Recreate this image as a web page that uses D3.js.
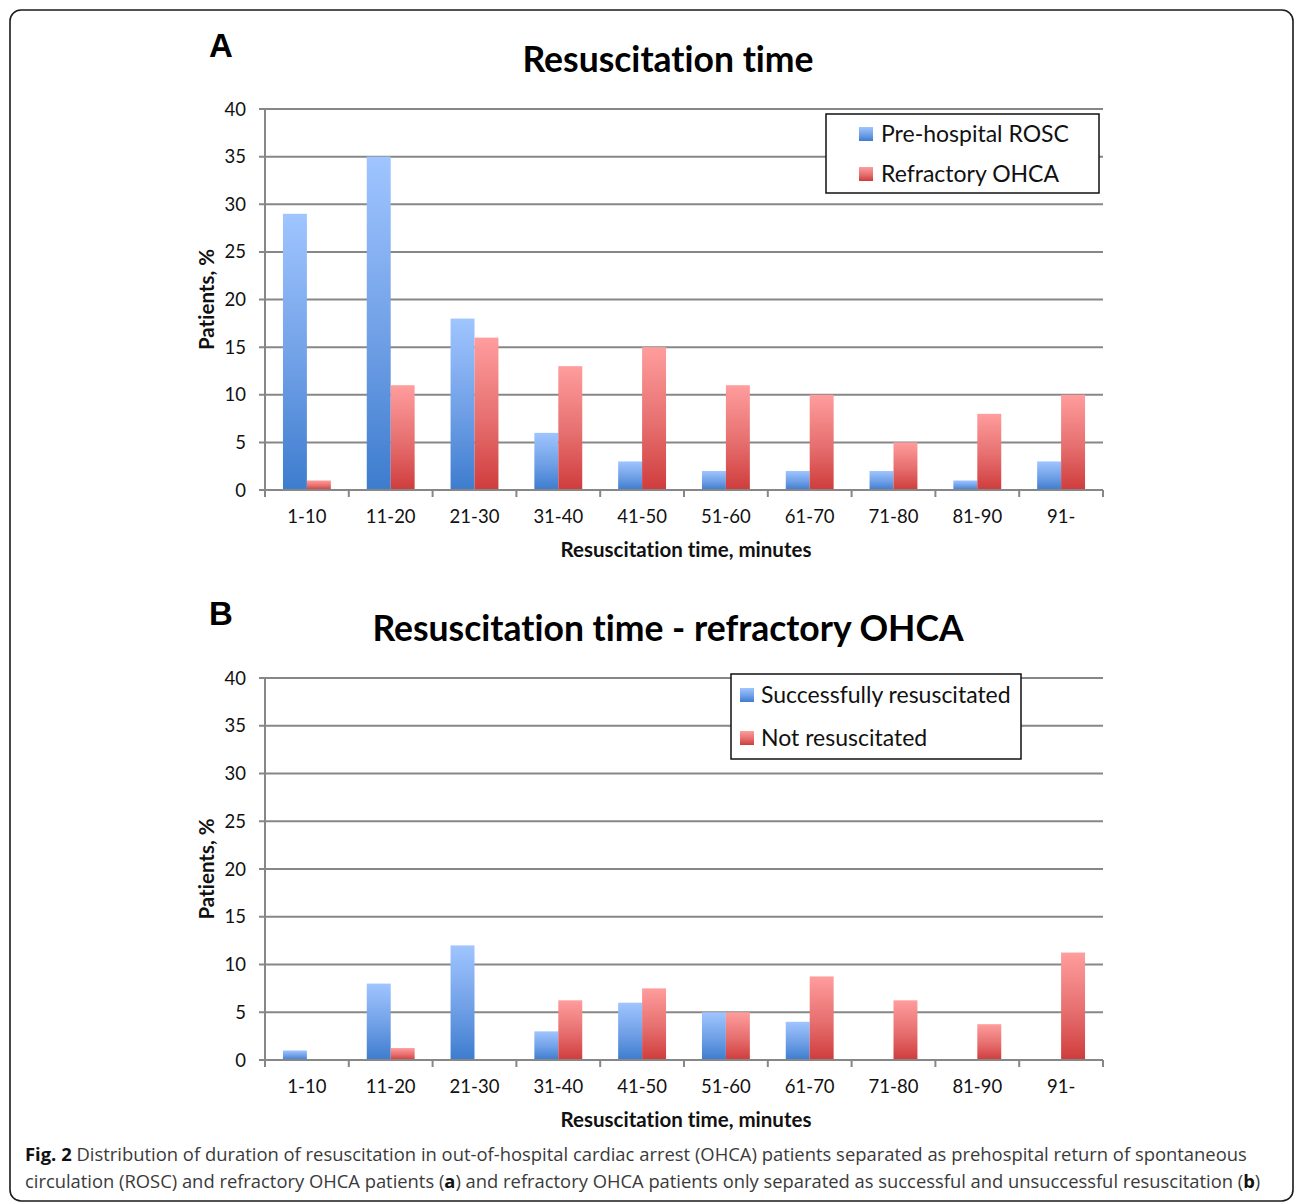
<!DOCTYPE html>
<html>
<head>
<meta charset="utf-8">
<script src="https://cdn.jsdelivr.net/npm/d3@7"></script>
<style>
  html, body { margin: 0; padding: 0; background: #fff; }
  svg { display: block; font-variant-ligatures: none; }
  .tick-label { font-family: Lato, "Open Sans", sans-serif; font-size: 18.5px; fill: #111; }
  .axis-title { font-family: Lato, "Open Sans", sans-serif; font-size: 20.5px; font-weight: 700; fill: #111; }
  .chart-title { font-family: Lato, "Open Sans", sans-serif; font-size: 35.5px; font-weight: 700; fill: #000; }
  .panel-letter { font-family: "Liberation Sans", Arial, sans-serif; font-size: 33px; font-weight: 700; fill: #000; }
  .legend-text { font-family: Lato, "Open Sans", sans-serif; font-size: 23px; fill: #111; }
  .caption { font-family: "Open Sans", "Noto Sans", sans-serif; font-size: 18px; fill: #3a3a3a; }
</style>
</head>
<body>
<div id="chart"></div>
<script>
// ---- data ----
const categories = ["1-10", "11-20", "21-30", "31-40", "41-50", "51-60", "61-70", "71-80", "81-90", "91-"];
const preHospitalROSC = [29, 35, 18, 6, 3, 2, 2, 2, 1, 3];
const refractoryOHCA  = [1, 11, 16, 13, 15, 11, 10, 5, 8, 10];
const successfullyResuscitated = [1, 8, 12, 3, 6, 5, 4, 0, 0, 0];
const notResuscitated          = [0, 1.25, 0, 6.25, 7.5, 5, 8.75, 6.25, 3.75, 11.25];
const yTicks = [0, 5, 10, 15, 20, 25, 30, 35, 40];

const W = 1295, H = 1204;
const svg = d3.select("#chart").append("svg").attr("width", W).attr("height", H);

// gradien per batang: terang di atas, gelap di bawah
const defs = svg.append("defs");
function grad(id, top, mid, bottom) {
  const g = defs.append("linearGradient").attr("id", id)
    .attr("x1", 0).attr("y1", 0).attr("x2", 0).attr("y2", 1);
  g.append("stop").attr("offset", "0%").attr("stop-color", top);
  g.append("stop").attr("offset", "55%").attr("stop-color", mid);
  g.append("stop").attr("offset", "100%").attr("stop-color", bottom);
}
grad("gBlue", "#a0c5ff", "#6f9fe6", "#3d7cce");
grad("gRed", "#ff9d9d", "#e66e6e", "#cf3c3c");
const fills = ["url(#gBlue)", "url(#gRed)"];

// bingkai luar
svg.append("rect")
  .attr("x", 10).attr("y", 10).attr("width", 1283).attr("height", 1191)
  .attr("rx", 11).attr("ry", 11)
  .attr("fill", "none").attr("stroke", "#1a1a1a").attr("stroke-width", 1.6);

const panels = [
  { letter: "A", letterY: 57, title: "Resuscitation time", titleY: 72,
    top: 109, bottom: 490, series: [preHospitalROSC, refractoryOHCA],
    legend: { x: 826, y: 114, w: 273, h: 79, labels: ["Pre-hospital ROSC", "Refractory OHCA"], rowY: [134, 174], sx: 859, tx: 881 } },
  { letter: "B", letterY: 625, title: "Resuscitation time - refractory OHCA", titleY: 641,
    top: 678, bottom: 1060, series: [successfullyResuscitated, notResuscitated],
    legend: { x: 731, y: 674, w: 290, h: 85, labels: ["Successfully resuscitated", "Not resuscitated"], rowY: [695, 738], sx: 740, tx: 761 } }
];

const left = 265, right = 1103;
const x = d3.scaleBand().domain(categories).range([left, right]).paddingInner(0).paddingOuter(0);
const xs = d3.scaleBand().domain([0, 1]).range([0, x.bandwidth()]).paddingInner(0).paddingOuter(0.75);
const gridColor = "#878787";

panels.forEach(p => {
  const g = svg.append("g");
  const y = d3.scaleLinear().domain([0, 40]).range([p.bottom, p.top]);

  g.append("text").attr("class", "panel-letter").attr("x", 209).attr("y", p.letterY).text(p.letter);
  g.append("text").attr("class", "chart-title").attr("x", 668).attr("y", p.titleY)
    .attr("text-anchor", "middle").text(p.title);

  // gridline horizontal + tick kiri
  g.append("g").selectAll("line").data(yTicks).join("line")
    .attr("x1", left - 6).attr("x2", right)
    .attr("y1", d => y(d)).attr("y2", d => y(d))
    .attr("stroke", gridColor).attr("stroke-width", 2);
  g.append("g").selectAll("text").data(yTicks).join("text")
    .attr("class", "tick-label")
    .attr("x", 246).attr("y", d => y(d) + 6.5)
    .attr("text-anchor", "end").text(d => d);

  // sumbu y
  g.append("line").attr("x1", left).attr("x2", left).attr("y1", p.top).attr("y2", p.bottom)
    .attr("stroke", gridColor).attr("stroke-width", 2);

  // batang
  p.series.forEach((vals, si) => {
    g.append("g").selectAll("rect").data(categories).join("rect")
      .attr("x", (c) => x(c) + xs(si))
      .attr("width", xs.bandwidth())
      .attr("y", (c, i) => y(vals[i]))
      .attr("height", (c, i) => y(0) - y(vals[i]))
      .attr("fill", fills[si])
      .style("display", (c, i) => vals[i] > 0 ? null : "none");
  });

  // sumbu x
  g.append("line").attr("x1", left).attr("x2", right).attr("y1", p.bottom).attr("y2", p.bottom)
    .attr("stroke", gridColor).attr("stroke-width", 2);
  const bounds = categories.map(c => x(c)).concat([right]);
  g.append("g").selectAll("line").data(bounds).join("line")
    .attr("x1", d => d).attr("x2", d => d)
    .attr("y1", p.bottom).attr("y2", p.bottom + 7)
    .attr("stroke", gridColor).attr("stroke-width", 2);
  g.append("g").selectAll("text").data(categories).join("text")
    .attr("class", "tick-label")
    .attr("x", c => x(c) + x.bandwidth() / 2).attr("y", p.bottom + 33)
    .attr("text-anchor", "middle").text(c => c);

  g.append("text").attr("class", "axis-title")
    .attr("x", 686).attr("y", p.bottom + 67).attr("text-anchor", "middle")
    .text("Resuscitation time, minutes");
  g.append("text").attr("class", "axis-title")
    .attr("transform", `translate(214,${(p.top + p.bottom) / 2}) rotate(-90)`)
    .attr("text-anchor", "middle").text("Patients, %");

  // legenda
  const L = p.legend;
  g.append("rect").attr("x", L.x).attr("y", L.y).attr("width", L.w).attr("height", L.h)
    .attr("fill", "#fff").attr("stroke", "#111").attr("stroke-width", 1.5);
  L.labels.forEach((lab, i) => {
    g.append("rect").attr("x", L.sx).attr("y", L.rowY[i] - 7).attr("width", 14).attr("height", 14)
      .attr("fill", fills[i]);
    g.append("text").attr("class", "legend-text").attr("x", L.tx).attr("y", L.rowY[i] + 8).text(lab);
  });
});

// keterangan gambar
const captionLines = [
  [["Fig. 2", true], [" Distribution of duration of resuscitation in out-of-hospital cardiac arrest (OHCA) patients separated as prehospital return of spontaneous", false]],
  [["circulation (ROSC) and refractory OHCA patients (", false], ["a", true], [") and refractory OHCA patients only separated as successful and unsuccessful resuscitation (", false], ["b", true], [")", false]]
];
const captionW = [1222, 1235];
captionLines.forEach((parts, li) => {
  const t = svg.append("text").attr("class", "caption").attr("x", 25).attr("y", 1161 + li * 27);
  parts.forEach(([s, b]) => {
    t.append("tspan").style("font-weight", b ? 700 : 400).style("fill", b ? "#111" : null).text(s);
  });
  const len = t.node().getComputedTextLength();
  if (len > 0) t.style("font-size", (18 * captionW[li] / len).toFixed(2) + "px");
});
</script>
</body>
</html>
